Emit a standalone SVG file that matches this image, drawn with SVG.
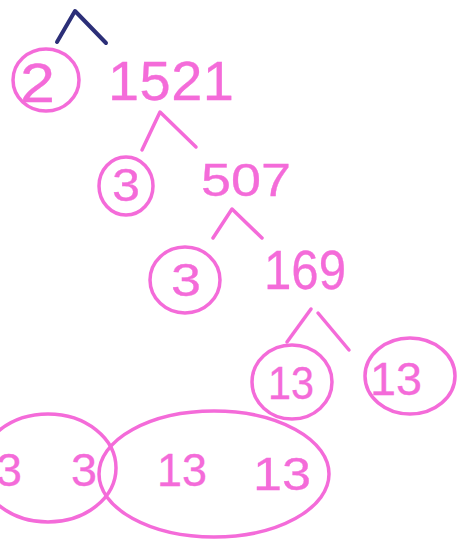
<svg xmlns="http://www.w3.org/2000/svg" width="457" height="539" viewBox="0 0 457 539">
<style>
.ink{fill:none;stroke:#f46bd9;stroke-width:3.5;stroke-linecap:round;stroke-linejoin:round}
.navy{fill:none;stroke:#2c2f78;stroke-width:4;stroke-linecap:round;stroke-linejoin:round}
.t{font-family:"Liberation Sans","DejaVu Sans",sans-serif;fill:#f46bd9;stroke:#f46bd9;stroke-width:0.3;font-size:56px}
.s{font-size:46px}
</style>
<rect width="457" height="539" fill="#ffffff"/>
<g id="connectors">
<polyline class="navy" points="57,42 75,11 106,43"/>
<polyline class="ink" points="142,150 160,112 196,147"/>
<polyline class="ink" points="213,238 232,209 262,238"/>
<polyline class="ink" points="287,342 311,309"/>
<polyline class="ink" points="318,313 349,350"/>
</g>
<g id="node-2">
<ellipse class="ink" cx="46" cy="80" rx="33" ry="31"/>
<text class="t" x="20" y="102" textLength="35" lengthAdjust="spacingAndGlyphs">2</text>
</g>
<g id="node-1521">
<text class="t" x="108" y="100" textLength="126" lengthAdjust="spacing">1521</text>
</g>
<g id="node-3a">
<ellipse class="ink" cx="126" cy="186" rx="27" ry="29"/>
<text class="t s" x="112" y="201" textLength="28" lengthAdjust="spacingAndGlyphs">3</text>
</g>
<g id="node-507">
<text class="t s" x="201" y="196" textLength="90" lengthAdjust="spacingAndGlyphs">507</text>
</g>
<g id="node-3b">
<ellipse class="ink" cx="185" cy="280" rx="35" ry="33"/>
<text class="t s" x="171" y="296" textLength="30" lengthAdjust="spacingAndGlyphs">3</text>
</g>
<g id="node-169">
<text class="t" x="264" y="289" textLength="82" lengthAdjust="spacingAndGlyphs">169</text>
</g>
<g id="node-13a">
<ellipse class="ink" cx="292" cy="382" rx="40" ry="37"/>
<text class="t s" x="268" y="399" textLength="46" lengthAdjust="spacingAndGlyphs">13</text>
</g>
<g id="node-13b">
<ellipse class="ink" cx="410" cy="376" rx="45" ry="38"/>
<text class="t s" x="370" y="395" textLength="52" lengthAdjust="spacingAndGlyphs">13</text>
</g>
<g id="group-3-3">
<ellipse class="ink" cx="48" cy="468" rx="68" ry="54"/>
<text class="t s" x="-4" y="486" textLength="26" lengthAdjust="spacingAndGlyphs">3</text>
<text class="t s" x="71" y="486" textLength="26" lengthAdjust="spacingAndGlyphs">3</text>
</g>
<g id="group-13-13">
<ellipse class="ink" cx="214" cy="474" rx="115" ry="63"/>
<text class="t s" x="157" y="486" textLength="50" lengthAdjust="spacingAndGlyphs">13</text>
<text class="t s" x="253" y="490" textLength="58" lengthAdjust="spacingAndGlyphs">13</text>
</g>
</svg>
